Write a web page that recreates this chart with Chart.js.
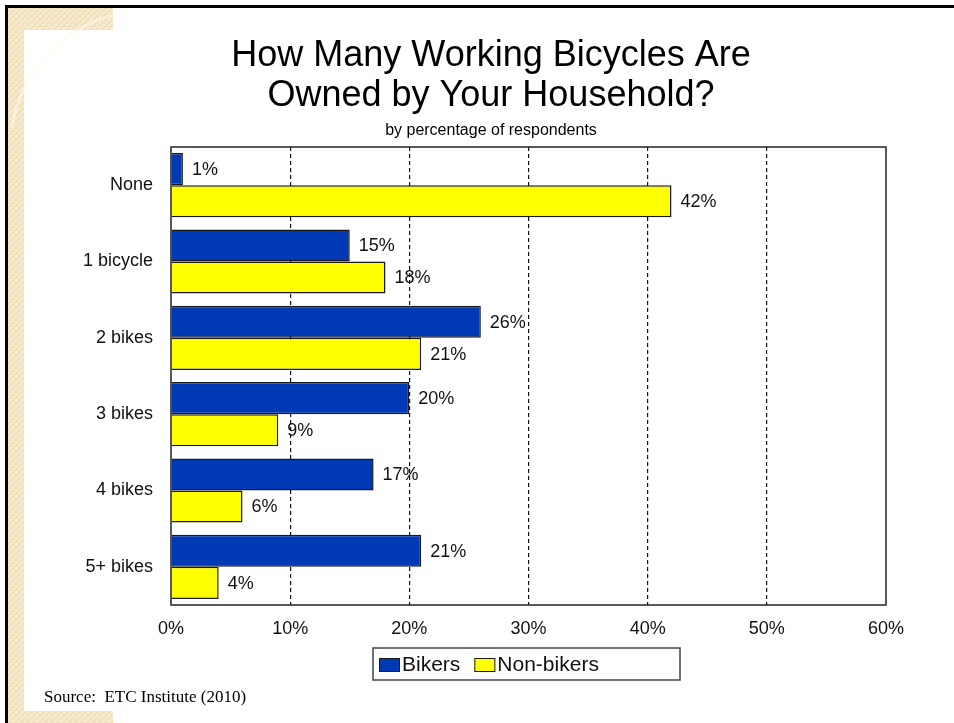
<!DOCTYPE html>
<html>
<head>
<meta charset="utf-8">
<title>How Many Working Bicycles Are Owned by Your Household?</title>
<script src="https://cdn.jsdelivr.net/npm/chart.js@4/dist/chart.umd.min.js"></script>
<style>
  html, body { margin: 0; padding: 0; background: #ffffff; }
  #wrap { position: relative; width: 954px; height: 723px; }
  canvas { display: block; }
</style>
</head>
<body>
<div id="wrap"><canvas id="chart" width="954" height="723"></canvas></div>
<script>
// Household bicycle ownership, percent of respondents
const categories = ['None', '1 bicycle', '2 bikes', '3 bikes', '4 bikes', '5+ bikes'];
const bikers    = [1, 15, 26, 20, 17, 21];
const nonBikers = [42, 18, 21, 9, 6, 4];
const xTicks = [0, 10, 20, 30, 40, 50, 60];

const titleLines = ['How Many Working Bicycles Are', 'Owned by Your Household?'];
const subtitleText = 'by percentage of respondents';
const sourceText = 'Source:  ETC Institute (2010)';

const SANS = '"Liberation Sans", Arial, Helvetica, sans-serif';
const SERIF = '"Liberation Serif", "Times New Roman", serif';
const BLUE = '#0039b6';
const YELLOW = '#ffff00';
const INK = '#111111';

// small woven texture for the slide's corner frame
function makeWeave() {
  const c = document.createElement('canvas');
  c.width = 6; c.height = 6;
  const g = c.getContext('2d');
  g.fillStyle = '#f1e2bd';
  g.fillRect(0, 0, 6, 6);
  g.fillStyle = '#f7ecd2';
  g.fillRect(0, 0, 3, 3);
  g.fillRect(3, 3, 3, 3);
  g.fillStyle = '#ead7a8';
  g.fillRect(2, 2, 1, 1);
  g.fillRect(5, 5, 1, 1);
  return c;
}

const slideFrame = {
  id: 'slideFrame',
  beforeDraw(chart) {
    const ctx = chart.ctx;
    ctx.save();
    ctx.fillStyle = '#ffffff';
    ctx.fillRect(0, 0, chart.width, chart.height);
    const pat = ctx.createPattern(makeWeave(), 'repeat');
    ctx.fillStyle = pat;
    // top strip, left strip, bottom stub
    ctx.fillRect(8, 8, 105, 22);
    ctx.fillRect(8, 8, 16, chart.height - 8);
    ctx.fillRect(24, 711, 89, chart.height - 711);
    // faint arc across the corner
    ctx.strokeStyle = 'rgba(255,250,235,0.6)';
    ctx.lineWidth = 3;
    ctx.beginPath();
    ctx.arc(150, 150, 140, Math.PI * 1.05, Math.PI * 1.45);
    ctx.stroke();
    // black frame lines
    ctx.fillStyle = '#000000';
    ctx.fillRect(5, 5, chart.width - 5, 3);
    ctx.fillRect(5, 5, 3, chart.height - 5);
    ctx.restore();
  }
};

const plotDecor = {
  id: 'plotDecor',
  afterDatasetsDraw(chart) {
    const ctx = chart.ctx;
    const a = chart.chartArea;
    ctx.save();
    // plot outline
    ctx.strokeStyle = '#222222';
    ctx.lineWidth = 1.5;
    ctx.setLineDash([]);
    ctx.strokeRect(a.left, a.top, a.right - a.left, a.bottom - a.top);

    // value labels at the end of each bar
    ctx.font = '18px ' + SANS;
    ctx.fillStyle = INK;
    ctx.textAlign = 'left';
    ctx.textBaseline = 'middle';
    chart.data.datasets.forEach((ds, di) => {
      const meta = chart.getDatasetMeta(di);
      meta.data.forEach((bar, i) => {
        ctx.fillText(ds.data[i] + '%', bar.x + 9, bar.y + 1);
      });
    });

    // titles
    const cx = 491;
    ctx.textAlign = 'center';
    ctx.fillStyle = '#000000';
    ctx.font = '36px ' + SANS;
    ctx.fillText(titleLines[0], cx, 56);
    ctx.fillText(titleLines[1], cx, 96);
    ctx.font = '16px ' + SANS;
    ctx.fillText(subtitleText, cx, 131);

    // legend box
    const lx = 373, ly = 648, lw = 307, lh = 32;
    ctx.fillStyle = '#ffffff';
    ctx.fillRect(lx, ly, lw, lh);
    ctx.strokeStyle = '#444444';
    ctx.lineWidth = 1.5;
    ctx.strokeRect(lx, ly, lw, lh);
    ctx.font = '21px ' + SANS;
    ctx.textAlign = 'left';
    ctx.textBaseline = 'middle';
    let x = lx + 6;
    chart.data.datasets.forEach((ds) => {
      ctx.fillStyle = ds.backgroundColor;
      ctx.fillRect(x, ly + 10, 21, 14);
      ctx.strokeStyle = '#1a1a1a';
      ctx.lineWidth = 1;
      ctx.strokeRect(x + 0.5, ly + 10.5, 20, 13);
      ctx.fillStyle = INK;
      ctx.fillText(ds.label, x + 23, ly + 17);
      x += 23 + ctx.measureText(ds.label).width + 14;
    });

    // source note
    ctx.font = '17px ' + SERIF;
    ctx.fillStyle = '#000000';
    ctx.textAlign = 'left';
    ctx.fillText(sourceText, 44, 698);
    ctx.restore();
  }
};

new Chart(document.getElementById('chart'), {
  type: 'bar',
  data: {
    labels: categories,
    datasets: [
      { label: 'Bikers', data: bikers, backgroundColor: BLUE, borderColor: '#1a1a1a', borderWidth: 1.5 },
      { label: 'Non-bikers', data: nonBikers, backgroundColor: YELLOW, borderColor: '#1a1a1a', borderWidth: 1.5 }
    ]
  },
  options: {
    indexAxis: 'y',
    responsive: false,
    animation: false,
    devicePixelRatio: 1,
    categoryPercentage: 0.84,
    barPercentage: 1.0,
    layout: { padding: { top: 147, right: 68, bottom: 78, left: 0 } },
    plugins: {
      legend: { display: false },
      title: { display: false },
      tooltip: { enabled: false }
    },
    scales: {
      x: {
        type: 'linear',
        min: xTicks[0],
        max: xTicks[xTicks.length - 1],
        afterBuildTicks(scale) { scale.ticks = xTicks.map(v => ({ value: v })); },
        afterFit(scale) { scale.height = 40; },
        border: { display: false, dash: [4, 3] },
        grid: {
          drawTicks: false,
          lineWidth: 1.2,
          borderDash: [4, 3],
          color: (c) => (c.index === 0 || c.index === xTicks.length - 1) ? 'rgba(0,0,0,0)' : '#111111'
        },
        ticks: {
          padding: 13,
          color: INK,
          font: { family: SANS, size: 18 },
          callback: (v) => v + '%'
        }
      },
      y: {
        type: 'category',
        afterFit(scale) { scale.width = 171; },
        border: { display: false },
        grid: { display: false, drawTicks: false },
        ticks: {
          padding: 18,
          color: INK,
          font: { family: SANS, size: 18 }
        }
      }
    }
  },
  plugins: [slideFrame, plotDecor]
});
</script>
</body>
</html>
